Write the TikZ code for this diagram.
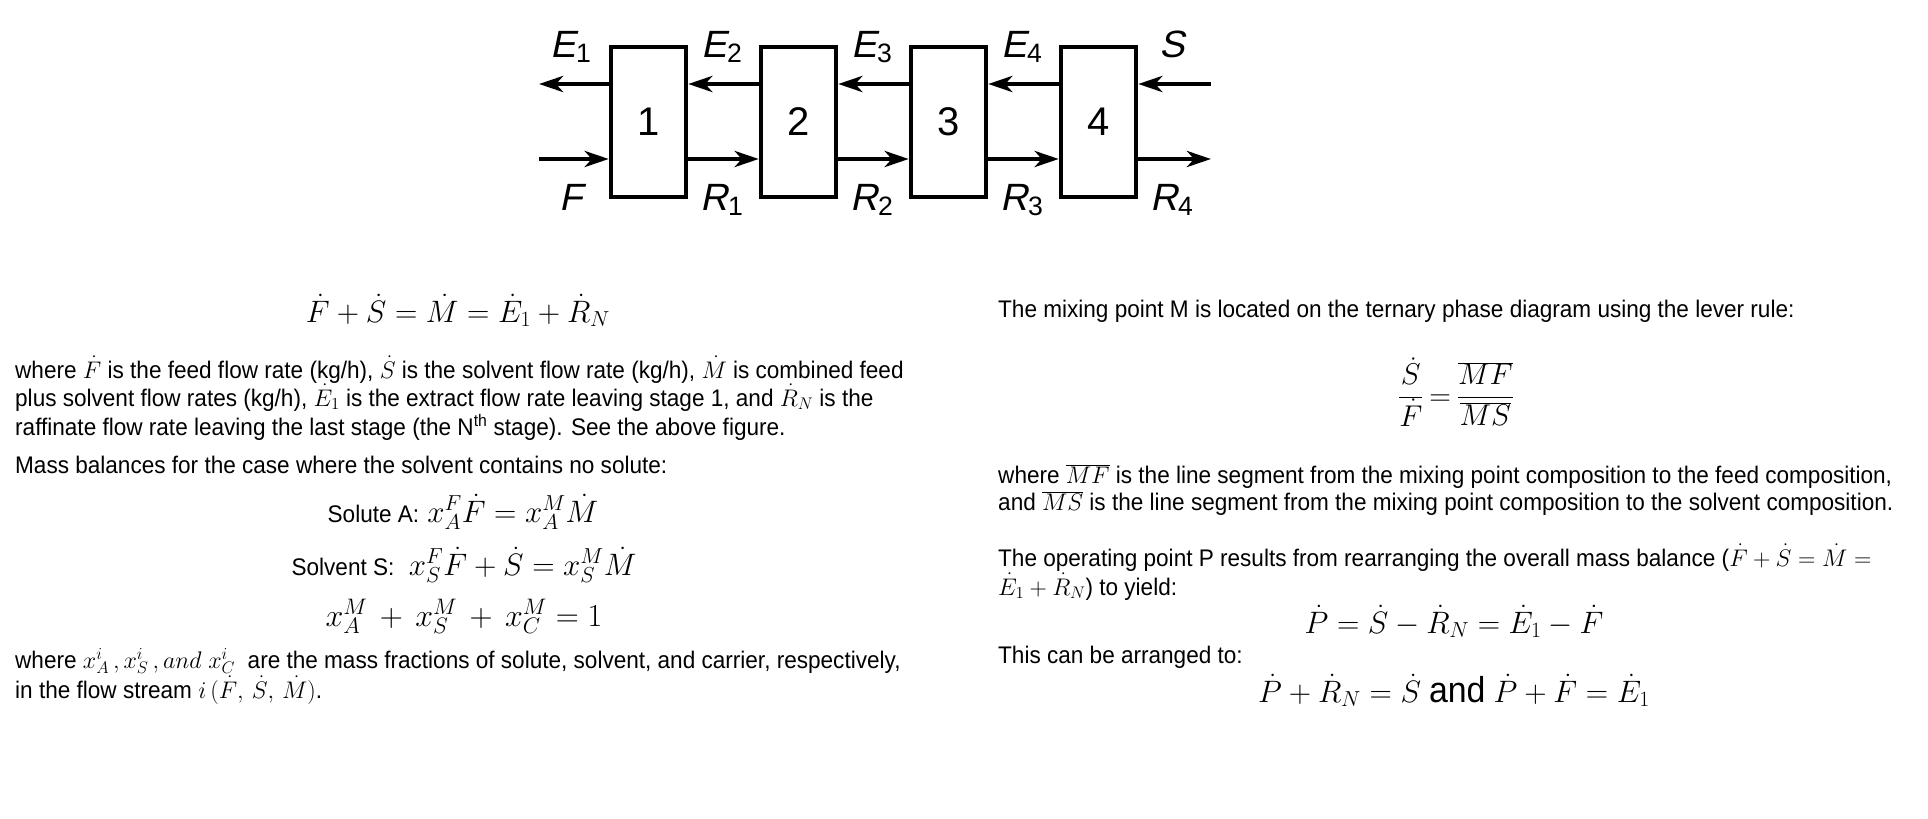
\RequirePackage{fix-cm}
\documentclass[tikz,border=0pt]{standalone}
\usepackage{fontspec}
\setmainfont[FakeStretch=0.94]{Liberation Sans}
\newfontfamily\labfont{Liberation Sans}
\newfontfamily\labit[FakeSlant=0.21]{Liberation Sans}
\usetikzlibrary{arrows.meta,calc}
\tikzset{
  stage/.style={draw, line width=4.5pt, minimum width=75pt, minimum height=150pt, inner sep=0pt, font=\labfont\fontsize{40}{40}\selectfont},
  flow/.style={line width=4.5pt, -{Stealth[length=24pt,width=16pt,inset=7pt]}},
  lab/.style={font=\fontsize{38}{38}\selectfont, inner sep=0pt, anchor=base},
  txt/.style={font=\fontsize{24}{28}\selectfont, inner sep=0pt, anchor=base west},
  eq/.style={font=\fontsize{31}{36}\selectfont, inner sep=0pt, anchor=base},
}
\newcommand{\stream}[2]{{\labit #1}{\labfont\textsubscript{#2}}}
\begin{document}
\begin{tikzpicture}[x=1pt,y=-1pt]
\useasboundingbox (0,0) rectangle (1928,819);
% stages
\node[stage] (b1) at (648.5,122) {1};
\node[stage] (b2) at (798.5,122) {2};
\node[stage] (b3) at (948.5,122) {3};
\node[stage] (b4) at (1098.5,122) {4};
\coordinate (e1end) at (539,84);
\coordinate (fin) at (539,159);
\coordinate (sin) at (1211,84);
\coordinate (r4end) at (1211,159);
% extract streams (right to left)
\draw[flow] ([yshift=38pt]b1.west) -- (e1end);
\draw[flow] ([yshift=38pt]b2.west) -- ([yshift=38pt]b1.east);
\draw[flow] ([yshift=38pt]b3.west) -- ([yshift=38pt]b2.east);
\draw[flow] ([yshift=38pt]b4.west) -- ([yshift=38pt]b3.east);
\draw[flow] (sin) -- ([yshift=38pt]b4.east);
% raffinate streams (left to right)
\draw[flow] (fin) -- ([yshift=-37pt]b1.west);
\draw[flow] ([yshift=-37pt]b1.east) -- ([yshift=-37pt]b2.west);
\draw[flow] ([yshift=-37pt]b2.east) -- ([yshift=-37pt]b3.west);
\draw[flow] ([yshift=-37pt]b3.east) -- ([yshift=-37pt]b4.west);
\draw[flow] ([yshift=-37pt]b4.east) -- (r4end);
% labels
\node[lab] (lE1) at (571,57) {\stream{E}{1}};
\node[lab] (lE2) at (722,57) {\stream{E}{2}};
\node[lab] (lE3) at (872,57) {\stream{E}{3}};
\node[lab] (lE4) at (1022,57) {\stream{E}{4}};
\node[lab] (lS) at (1172,57) {{\labit S}};
\node[lab] (lF) at (571,210) {{\labit F}};
\node[lab] (lR1) at (722,210) {\stream{R}{1}};
\node[lab] (lR2) at (872,210) {\stream{R}{2}};
\node[lab] (lR3) at (1022,210) {\stream{R}{3}};
\node[lab] (lR4) at (1172,210) {\stream{R}{4}};
% left column
\node[eq] (eq1) at (458,322) {$\dot{F}+\dot{S}=\dot{M}=\dot{E}_1+\dot{R}_N$};
\node[txt] (p1) at (15,378) {where $\dot{F}$ is the feed flow rate (kg/h), $\dot{S}$ is the solvent flow rate (kg/h), $\dot{M}$ is combined feed};
\node[txt] (p2) at (15,406) {plus solvent flow rates (kg/h), $\dot{E}_1$ is the extract flow rate leaving stage 1, and $\dot{R}_N$ is the};
\node[txt] (p3) at (15,435) {raffinate flow rate leaving the last stage (the N\textsuperscript{th} stage). See the above figure.};
\node[txt] (p4) at (15,473) {Mass balances for the case where the solvent contains no solute:};
\node[eq] (eq2) at (463,522) {{\fontsize{24}{28}\selectfont Solute A:} $x_A^F\dot{F}=x_A^M\dot{M}$};
\node[eq] (eq3) at (464,575) {{\fontsize{24}{28}\selectfont Solvent S:\ } $x_S^F\dot{F}+\dot{S}=x_S^M\dot{M}$};
\node[eq, font=\fontsize{32}{36}\selectfont] (eq4) at (464,626) {$x_A^M\,+\,x_S^M\,+\,x_C^M=1$};
\node[txt] (p5) at (15,668) {where $x_A^i\,,x_S^i\,,\mathnormal{and}\;x_C^i$ \ are the mass fractions of solute, solvent, and carrier, respectively,};
\node[txt] (p6) at (15,698) {in the flow stream $i\,(\dot{F},\,\dot{S},\,\dot{M})$.};
% right column
\node[txt] (q1) at (998,317) {The mixing point M is located on the ternary phase diagram using the lever rule:};
\node[eq, font=\fontsize{30}{34}\selectfont] (eq5) at (1456,405) {$\displaystyle\frac{\dot{S}}{\dot{F}}\mskip-1.5mu=\mskip-1.5mu\frac{\overline{MF}}{\overline{MS}}$};
\node[txt] (q2) at (998,483) {where $\overline{MF}$ is the line segment from the mixing point composition to the feed composition,};
\node[txt] (q3) at (998,510) {and $\overline{MS}$ is the line segment from the mixing point composition to the solvent composition.};
\node[txt] (q4) at (998,566) {The operating point P results from rearranging the overall mass balance ($\dot{F}+\dot{S}=\dot{M}=$};
\node[txt] (q5) at (998,595) {$\dot{E}_1+\dot{R}_N$) to yield:};
\node[eq] (eq6) at (1454,633) {$\dot{P}=\dot{S}-\dot{R}_N=\dot{E}_1-\dot{F}$};
\node[txt] (q6) at (998,663) {This can be arranged to:};
\node[eq] (eq7) at (1454,702) {$\dot{P}+\dot{R}_N=\dot{S}$ {\fontsize{36}{40}\selectfont and} $\dot{P}+\dot{F}=\dot{E}_1$};
\end{tikzpicture}
\end{document}
